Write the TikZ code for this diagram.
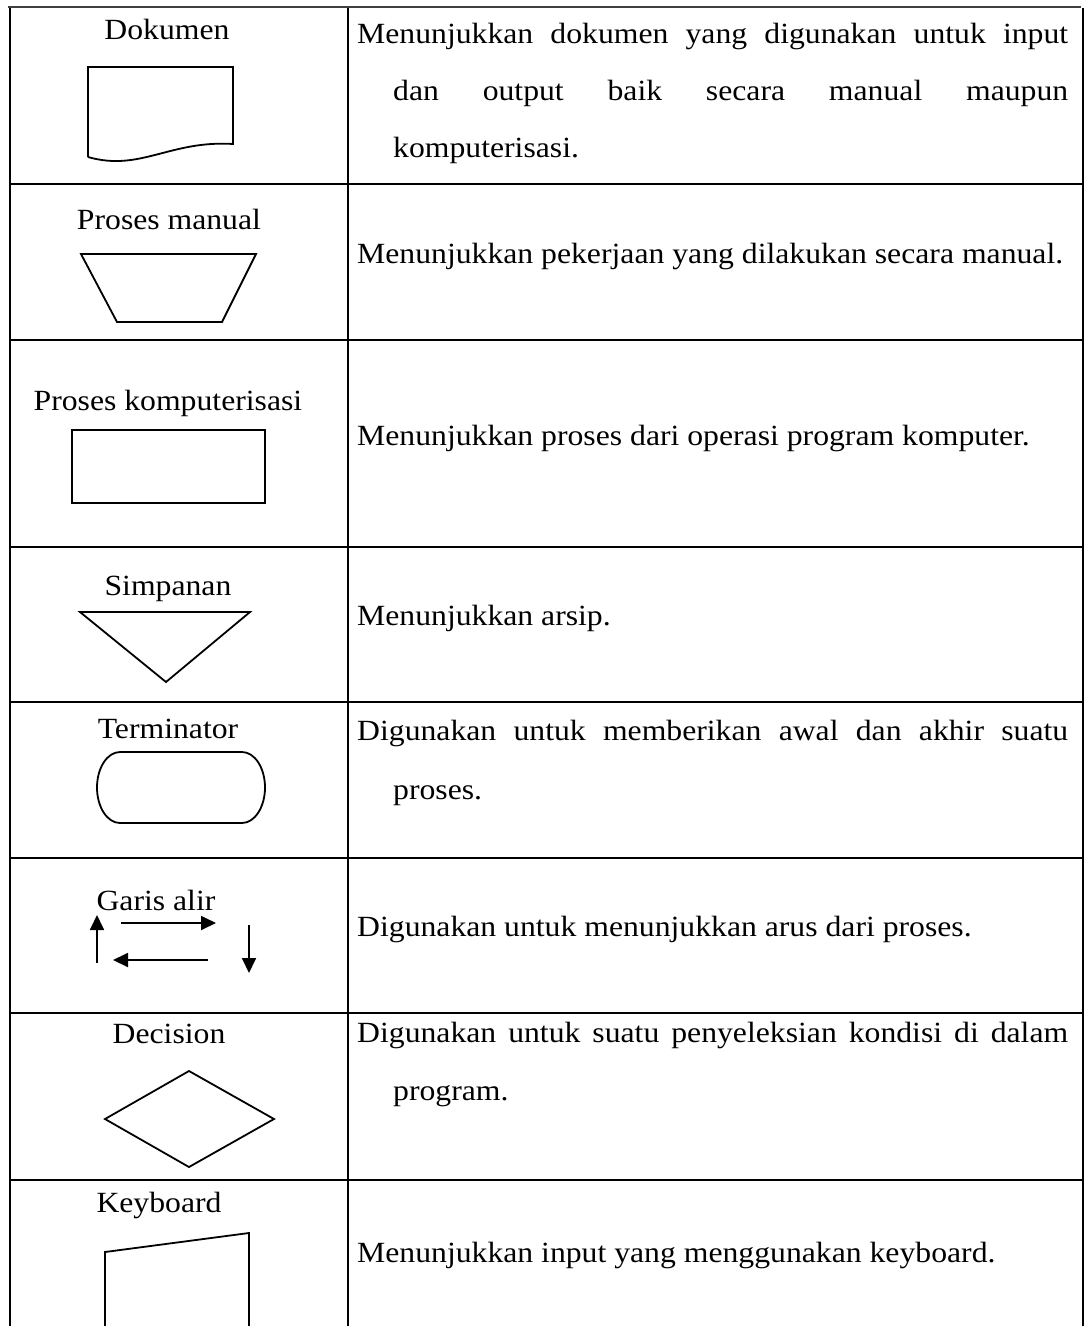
\documentclass[tikz,border=0pt]{standalone}
\usepackage{fontspec}
\setmainfont[FakeStretch=1.082]{Liberation Serif}
\usetikzlibrary{arrows.meta}
\begin{document}
\begin{tikzpicture}[x=1pt,y=-1pt,
  grid/.style={line width=2.6pt},
  shp/.style={line width=1.8pt, line join=miter},
  lbl/.style={anchor=base,inner sep=0pt,font=\fontsize{29.3}{34}\selectfont},
  desc/.style={anchor=base west,inner sep=0pt,font=\fontsize{29.3}{34}\selectfont},
  flow/.style={line width=1.8pt,-{Triangle[length=15pt,width=14pt]}}]
\useasboundingbox (0,0) rectangle (1087,1326);
\fill[white] (0,0) rectangle (1087,1326);
\clip (0,0) rectangle (1087,1326);
% table rules
\draw[line width=2pt,black!75] (8,7) -- (1081,7);
\draw[grid] (10,8) -- (10,1330);
\draw[grid] (348,8) -- (348,1330);
\draw[grid] (1083,8) -- (1083,1330);
\foreach \yy in {184,340,547,702,858,1013,1180}
  \draw[grid] (10,\yy) -- (1083,\yy);

% row 1: Dokumen
\node[lbl] (l1) at (167,39) {Dokumen};
\draw[shp] (88,157) -- (88,67) -- (233,67) -- (233,144)
  .. controls (170,140) and (140,172) .. (88,157);
\node[desc] (d1a) at (357,43) {\makebox[711pt][s]{Menunjukkan dokumen yang digunakan untuk input}};
\node[desc] (d1b) at (393,100) {\makebox[675pt][s]{dan output baik secara manual maupun}};
\node[desc] (d1c) at (393,157) {komputerisasi.};

% row 2: Proses manual
\node[lbl] (l2) at (169,229) {Proses manual};
\draw[shp] (81,254) -- (256,254) -- (222,322) -- (117,322) -- cycle;
\node[desc] (d2) at (357,263) {Menunjukkan pekerjaan yang dilakukan secara manual.};

% row 3: Proses komputerisasi
\node[lbl] (l3) at (168,410) {Proses komputerisasi};
\draw[shp] (72,430) rectangle (265,503);
\node[desc] (d3) at (357,445) {Menunjukkan proses dari operasi program komputer.};

% row 4: Simpanan
\node[lbl] (l4) at (168,595) {Simpanan};
\draw[shp] (80,612) -- (250,612) -- (166,682) -- cycle;
\node[desc] (d4) at (357,625) {Menunjukkan arsip.};

% row 5: Terminator
\node[lbl] (l5) at (168,738) {Terminator};
\draw[shp] (120,752) -- (242,752)
  .. controls (254.7,752) and (265,767.9) .. (265,787.5)
  .. controls (265,807.1) and (254.7,823) .. (242,823)
  -- (120,823)
  .. controls (107.3,823) and (97,807.1) .. (97,787.5)
  .. controls (97,767.9) and (107.3,752) .. cycle;
\node[desc] (d5a) at (357,740) {\makebox[711pt][s]{Digunakan untuk memberikan awal dan akhir suatu}};
\node[desc] (d5b) at (393,799) {proses.};

% row 6: Garis alir
\node[lbl] (l6) at (156,910) {Garis alir};
\coordinate (u0) at (97,963);  \coordinate (u1) at (97,915);
\coordinate (r0) at (121,923); \coordinate (r1) at (216,923);
\coordinate (w0) at (208,960); \coordinate (w1) at (113,960);
\coordinate (v0) at (249,925); \coordinate (v1) at (249,973);
\draw[flow] (u0) -- (u1);
\draw[flow] (r0) -- (r1);
\draw[flow] (w0) -- (w1);
\draw[flow] (v0) -- (v1);
\node[desc] (d6) at (357,936) {Digunakan untuk menunjukkan arus dari proses.};

% row 7: Decision
\node[lbl] (l7) at (169,1043) {Decision};
\draw[shp] (189,1071) -- (274,1119) -- (189,1167) -- (105,1119) -- cycle;
\node[desc] (d7a) at (357,1042) {\makebox[711pt][s]{Digunakan untuk suatu penyeleksian kondisi di dalam}};
\node[desc] (d7b) at (393,1100) {program.};

% row 8: Keyboard
\node[lbl] (l8) at (159,1212) {Keyboard};
\draw[shp] (105,1335) -- (105,1252) -- (249,1233) -- (249,1335);
\node[desc] (d8) at (357,1262) {Menunjukkan input yang menggunakan keyboard.};
\end{tikzpicture}
\end{document}
